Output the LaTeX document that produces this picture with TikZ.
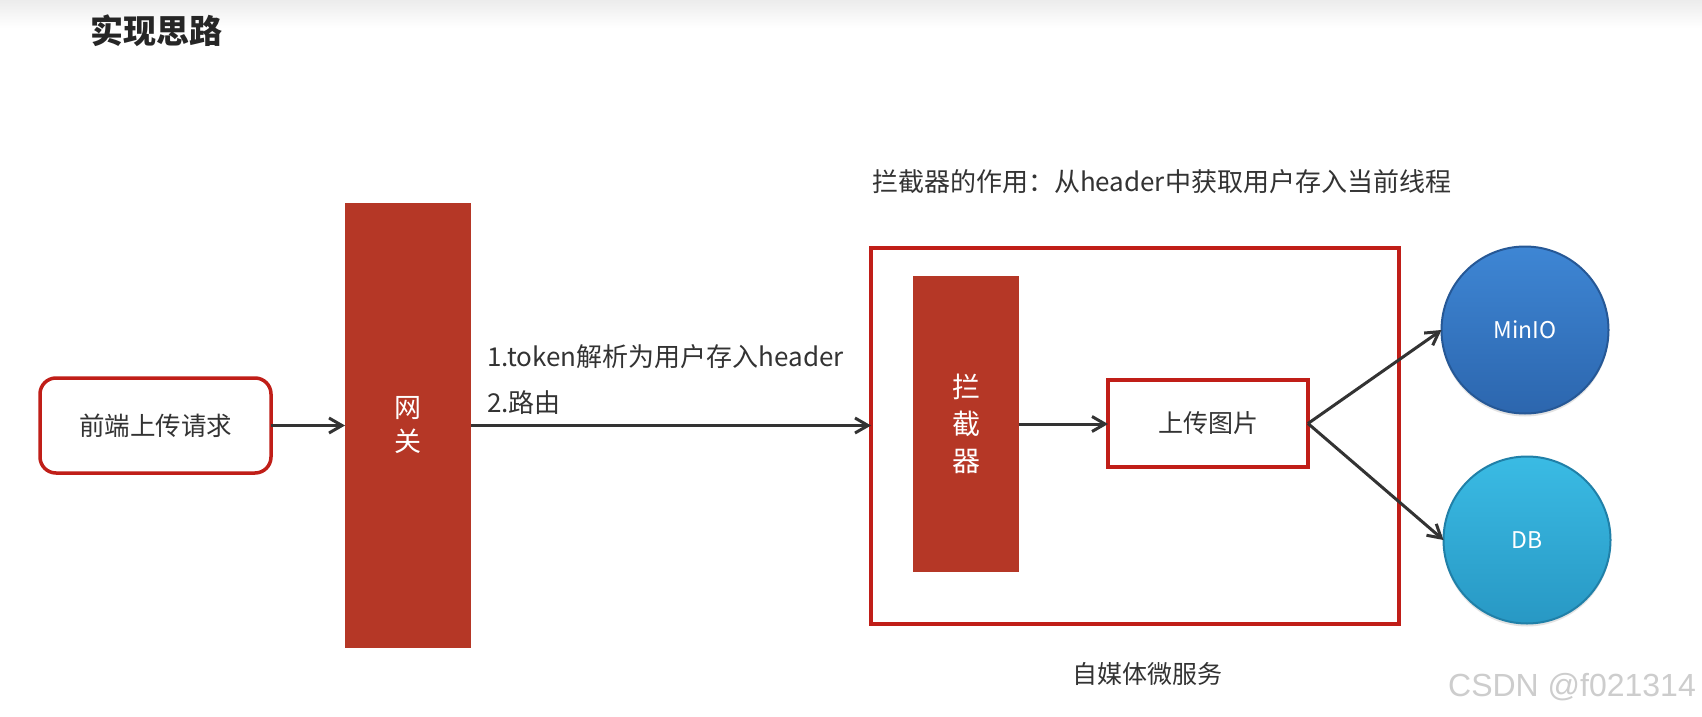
\documentclass[tikz,border=0pt]{standalone}
\usepackage{fontspec}
\setmainfont{Noto Sans CJK SC}
\newfontfamily\wmfont{Liberation Sans}
\usetikzlibrary{arrows.meta,shadows}
\definecolor{blockred}{RGB}{181,55,38}
\definecolor{linered}{RGB}{192,30,24}
\definecolor{txt}{RGB}{51,51,51}
\definecolor{arrowc}{RGB}{51,51,51}
\definecolor{miniotop}{RGB}{62,134,212}
\definecolor{miniobot}{RGB}{44,102,174}
\definecolor{minioedge}{RGB}{38,88,150}
\definecolor{dbtop}{RGB}{58,187,228}
\definecolor{dbbot}{RGB}{40,152,196}
\definecolor{dbedge}{RGB}{32,128,168}
\definecolor{wm}{RGB}{205,205,205}
\begin{document}
\begin{tikzpicture}[x=0.5pt,y=-0.5pt,
  every node/.style={inner sep=0pt, outer sep=0pt},
  redblock/.style={rectangle, fill=blockred, text=white, align=center},
  frame/.style={rectangle, draw=linered, line width=1.75pt},
  conn/.style={draw=arrowc, line width=1.5pt, -{Straight Barb[length=6.5pt,width=7.5pt]}},
  bodytxt/.style={text=txt, font=\fontsize{13pt}{16pt}\selectfont},
  orb/.style={circle, minimum size=83.5pt, text=white, line width=1pt,
    font=\fontsize{11.5pt}{14pt}\selectfont,
    drop shadow={opacity=0.22, shadow xshift=0pt, shadow yshift=-1.5pt}}
]
\useasboundingbox (0,0) rectangle (1702,717);
\fill[white] (0,0) rectangle (1702,717);
\shade[top color={rgb,255:red,236;green,236;blue,236}, bottom color=white] (0,0) rectangle (1702,28);

% title
\node[text={rgb,255:red,38;green,38;blue,38}, font=\bfseries\fontsize{16.5pt}{20pt}\selectfont] (title) at (156,31) {实现思路};

% front-end request
\node[rectangle, rounded corners=8pt, draw=linered, line width=1.75pt, fill=white,
  minimum width=115.5pt, minimum height=47.5pt, bodytxt, font=\fontsize{12.75pt}{15pt}\selectfont] (front) at (155.5,425.5) {前端上传请求};

% gateway
\node[redblock, minimum width=63pt, minimum height=222.5pt,
  font=\fontsize{13.5pt}{17pt}\selectfont] (gateway) at (408,425.5) {网\\关};

% media microservice frame
\node[frame, minimum width=264pt, minimum height=188pt] (service) at (1135,436) {};

% interceptor
\node[redblock, minimum width=53pt, minimum height=148pt,
  font=\fontsize{14pt}{18.5pt}\selectfont] (interceptor) at (966,424) {拦\\截\\器};

% upload picture
\node[frame, fill=white, minimum width=100pt, minimum height=43.5pt, text=txt,
  font=\fontsize{12.5pt}{15pt}\selectfont] (upload) at (1208,423.5) {上传图片};

% storage circles
\node[orb, top color=miniotop, bottom color=miniobot, draw=minioedge] (minio) at (1525,330) {MinIO};
\node[orb, top color=dbtop, bottom color=dbbot, draw=dbedge] (db) at (1527,540) {DB};

% labels
\node[bodytxt, anchor=west] (lab1) at (487,357) {1.token解析为用户存入header};
\node[bodytxt, anchor=west] (lab2) at (487,403) {2.路由};
\node[bodytxt, anchor=west] (labtop) at (872,182) {拦截器的作用：从header中获取用户存入当前线程};
\node[text=txt, font=\fontsize{12.5pt}{15pt}\selectfont] (labsvc) at (1147,674) {自媒体微服务};

% watermark
\node[text=wm, font=\wmfont\fontsize{16pt}{18pt}\selectfont] (wmark) at (1572,687) {CSDN @f021314};

% connectors
\draw[conn] (front.east) -- (gateway.west |- front.east);
\draw[conn] (gateway.east) -- (gateway.east -| service.west);
\draw[conn] (interceptor.east) -- (upload.west |- interceptor.east);
\draw[conn] (upload.east) -- (minio.west);
\draw[conn] (upload.east) -- (db.west);
\end{tikzpicture}
\end{document}
